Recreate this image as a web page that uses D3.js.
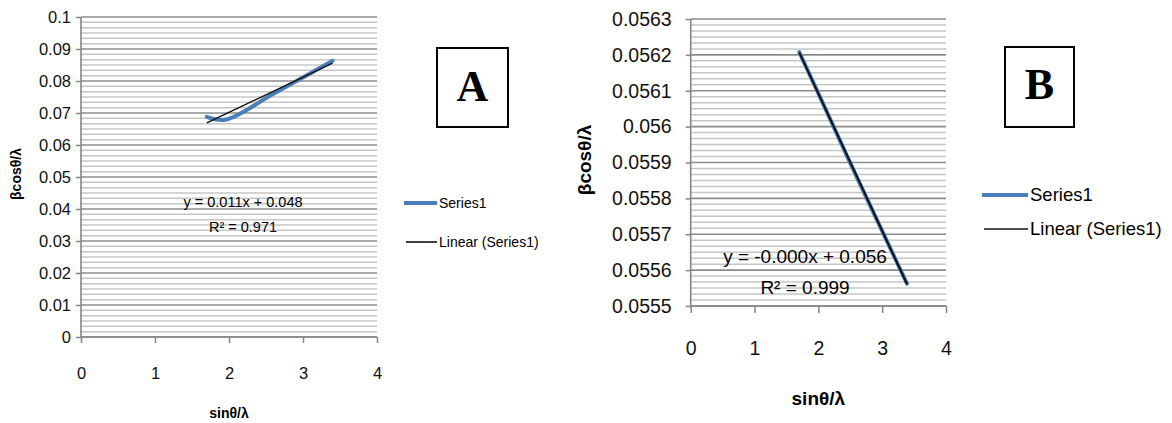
<!DOCTYPE html>
<html>
<head>
<meta charset="utf-8">
<script src="https://cdn.jsdelivr.net/npm/d3@7"></script>
<style>
  html, body { margin: 0; padding: 0; background: #fff; }
  svg { display: block; }
  text { font-family: "Liberation Sans", Arial, sans-serif; fill: #000; }
  text.letter { font-family: "Liberation Serif", "Times New Roman", serif; font-weight: bold; }
</style>
</head>
<body>
<svg id="chart" width="1172" height="423"></svg>
<script>
// Williamson–Hall data for the two samples
const xTicks = [0, 1, 2, 3, 4];

const seriesA_x = [1.70, 1.95, 2.60, 3.40];
const seriesA_y = [0.0688, 0.0679, 0.0760, 0.0863];
const yTicksA = [0, 0.01, 0.02, 0.03, 0.04, 0.05, 0.06, 0.07, 0.08, 0.09, 0.1];
const yTickLabelsA = ["0", "0.01", "0.02", "0.03", "0.04", "0.05", "0.06", "0.07", "0.08", "0.09", "0.1"];
const equationA = ["y = 0.011x + 0.048", "R² = 0.971"];

const seriesB_x = [1.70, 1.95, 2.60, 3.39];
const seriesB_y = [0.056208, 0.056112, 0.055860, 0.055562];
const yTicksB = [0.0555, 0.0556, 0.0557, 0.0558, 0.0559, 0.056, 0.0561, 0.0562, 0.0563];
const yTickLabelsB = ["0.0555", "0.0556", "0.0557", "0.0558", "0.0559", "0.056", "0.0561", "0.0562", "0.0563"];
const equationB = ["y = -0.000x + 0.056", "R² = 0.999"];

const legendLabels = ["Series1", "Linear (Series1)"];
const xTitle = "sinθ/λ";
const yTitle = "βcosθ/λ";

const BLUE = "#4a7ebb";
const MINOR_STEPS = 6;

const svg = d3.select("#chart");
svg.append("rect").attr("width", 1172).attr("height", 423).attr("fill", "#fff");

function linearFit(xs, ys) {
  const mx = d3.mean(xs), my = d3.mean(ys);
  let sxy = 0, sxx = 0;
  xs.forEach((x, i) => { sxy += (x - mx) * (ys[i] - my); sxx += (x - mx) ** 2; });
  const slope = sxy / sxx;
  return { slope, intercept: my - slope * mx };
}

function drawPanel(cfg) {
  const g = svg.append("g");
  const x = d3.scaleLinear().domain([0, 4]).range([cfg.left, cfg.right]);
  const yMin = cfg.yTicks[0], yMax = cfg.yTicks[cfg.yTicks.length - 1];
  const y = d3.scaleLinear().domain([yMin, yMax]).range([cfg.bottom, cfg.top]);

  // minor gridlines
  const major = cfg.yTicks[1] - cfg.yTicks[0];
  const minor = [];
  for (let i = 0; i < cfg.yTicks.length - 1; i++) {
    for (let k = 1; k < MINOR_STEPS; k++) minor.push(cfg.yTicks[i] + major * k / MINOR_STEPS);
  }
  g.selectAll(".minor").data(minor).join("line")
    .attr("x1", cfg.left).attr("x2", cfg.right)
    .attr("y1", d => y(d)).attr("y2", d => y(d))
    .attr("stroke", "#c6c6c6").attr("stroke-width", 1.5);

  // major gridlines
  g.selectAll(".major").data(cfg.yTicks).join("line")
    .attr("x1", cfg.left).attr("x2", cfg.right)
    .attr("y1", d => y(d)).attr("y2", d => y(d))
    .attr("stroke", "#8c8c8c").attr("stroke-width", 1.6);

  // y axis
  const yAxis = d3.axisLeft(y).tickValues(cfg.yTicks)
    .tickFormat((d, i) => cfg.yLabels[i]).tickSize(5).tickPadding(cfg.yPad);
  const ya = g.append("g").attr("transform", `translate(${cfg.left},0)`).call(yAxis);
  ya.select(".domain").attr("stroke", "#868686").attr("stroke-width", 1.6).attr("d", `M0,${cfg.top}V${cfg.bottom}`);
  ya.selectAll(".tick line").attr("stroke", "#868686").attr("stroke-width", 1.5);
  ya.selectAll(".tick text").attr("font-size", cfg.tickFont).style("fill", "#111");

  // x axis
  const xAxis = d3.axisBottom(x).tickValues(xTicks).tickFormat(d3.format("d"))
    .tickSize(cfg.xTickLen).tickPadding(cfg.xPad);
  const xa = g.append("g").attr("transform", `translate(0,${cfg.bottom})`).call(xAxis);
  xa.select(".domain").attr("stroke", "#868686").attr("stroke-width", 1.6).attr("d", `M${cfg.left},0H${cfg.right}`);
  xa.selectAll(".tick line").attr("stroke", "#868686").attr("stroke-width", 1.5);
  xa.selectAll(".tick text").attr("font-size", cfg.tickFont).style("fill", "#111");

  // data series (smoothed line)
  const pts = cfg.xs.map((v, i) => [v, cfg.ys[i]]);
  g.append("path").datum(pts)
    .attr("d", d3.line().x(d => x(d[0])).y(d => y(d[1])).curve(d3.curveCatmullRom.alpha(0.5)))
    .attr("fill", "none").attr("stroke", BLUE).attr("stroke-width", 4)
    .attr("stroke-linecap", "round").attr("stroke-linejoin", "round");

  // linear trendline over the data range
  const fit = linearFit(cfg.xs, cfg.ys);
  const x0 = d3.min(cfg.xs), x1 = d3.max(cfg.xs);
  g.append("line")
    .attr("x1", x(x0)).attr("y1", y(fit.intercept + fit.slope * x0))
    .attr("x2", x(x1)).attr("y2", y(fit.intercept + fit.slope * x1))
    .attr("stroke", "#111").attr("stroke-width", cfg.trendWidth);

  // trendline equation
  g.selectAll(".eq").data(cfg.eq).join("text")
    .attr("x", cfg.eqX).attr("y", (d, i) => cfg.eqY + i * cfg.eqGap)
    .attr("text-anchor", "middle").attr("font-size", cfg.eqFont)
    .text(d => d);

  // axis titles
  g.append("text").attr("x", (cfg.left + cfg.right) / 2).attr("y", cfg.xTitleY)
    .attr("text-anchor", "middle").attr("font-size", cfg.titleFont).attr("font-weight", "bold")
    .text(xTitle);
  g.append("text")
    .attr("transform", `translate(${cfg.yTitleX},${cfg.yTitleY}) rotate(-90)`)
    .attr("text-anchor", "middle").attr("font-size", cfg.titleFont).attr("font-weight", "bold")
    .text(yTitle);

  // legend
  const lg = g.append("g");
  lg.append("line").attr("x1", cfg.legX).attr("x2", cfg.legX + cfg.legLen)
    .attr("y1", cfg.legY).attr("y2", cfg.legY).attr("stroke", BLUE).attr("stroke-width", 4);
  lg.append("line").attr("x1", cfg.legX + 2).attr("x2", cfg.legX + cfg.legLen)
    .attr("y1", cfg.legY + cfg.legGap).attr("y2", cfg.legY + cfg.legGap)
    .attr("stroke", "#111").attr("stroke-width", 1.6);
  lg.selectAll("text").data(legendLabels).join("text")
    .attr("x", cfg.legX + cfg.legLen + 2)
    .attr("y", (d, i) => cfg.legY + i * cfg.legGap)
    .attr("dy", "0.35em").attr("font-size", cfg.legFont).text(d => d);

  // panel letter box
  svg.append("rect").attr("x", cfg.box[0]).attr("y", cfg.box[1])
    .attr("width", cfg.box[2]).attr("height", cfg.box[3])
    .attr("fill", "#fff").attr("stroke", "#000").attr("stroke-width", 2);
  svg.append("text").attr("class", "letter")
    .attr("x", cfg.box[0] + cfg.box[2] / 2).attr("y", cfg.letterY)
    .attr("text-anchor", "middle").attr("font-size", 44).text(cfg.letter);
}

drawPanel({
  left: 81, right: 377, top: 17, bottom: 337,
  xs: seriesA_x, ys: seriesA_y, yTicks: yTicksA, yLabels: yTickLabelsA,
  tickFont: 16.5, yPad: 5, xTickLen: 6, xPad: 24,
  trendWidth: 1.4,
  eq: equationA, eqX: 243, eqY: 207, eqGap: 25, eqFont: 14.5,
  titleFont: 14, xTitleY: 418, yTitleX: 21, yTitleY: 174,
  legX: 404, legY: 203, legLen: 33, legGap: 39, legFont: 14,
  box: [437, 48, 71, 79], letterY: 101, letter: "A"
});

drawPanel({
  left: 690.7, right: 946, top: 19, bottom: 306,
  xs: seriesB_x, ys: seriesB_y, yTicks: yTicksB, yLabels: yTickLabelsB,
  tickFont: 19.5, yPad: 14, xTickLen: 7, xPad: 28,
  trendWidth: 2,
  eq: equationB, eqX: 805, eqY: 263, eqGap: 31, eqFont: 19,
  titleFont: 19, xTitleY: 405, yTitleX: 591, yTitleY: 160,
  legX: 982, legY: 195, legLen: 46, legGap: 34, legFont: 18.5,
  box: [1005, 47, 69, 80], letterY: 99, letter: "B"
});
</script>
</body>
</html>
